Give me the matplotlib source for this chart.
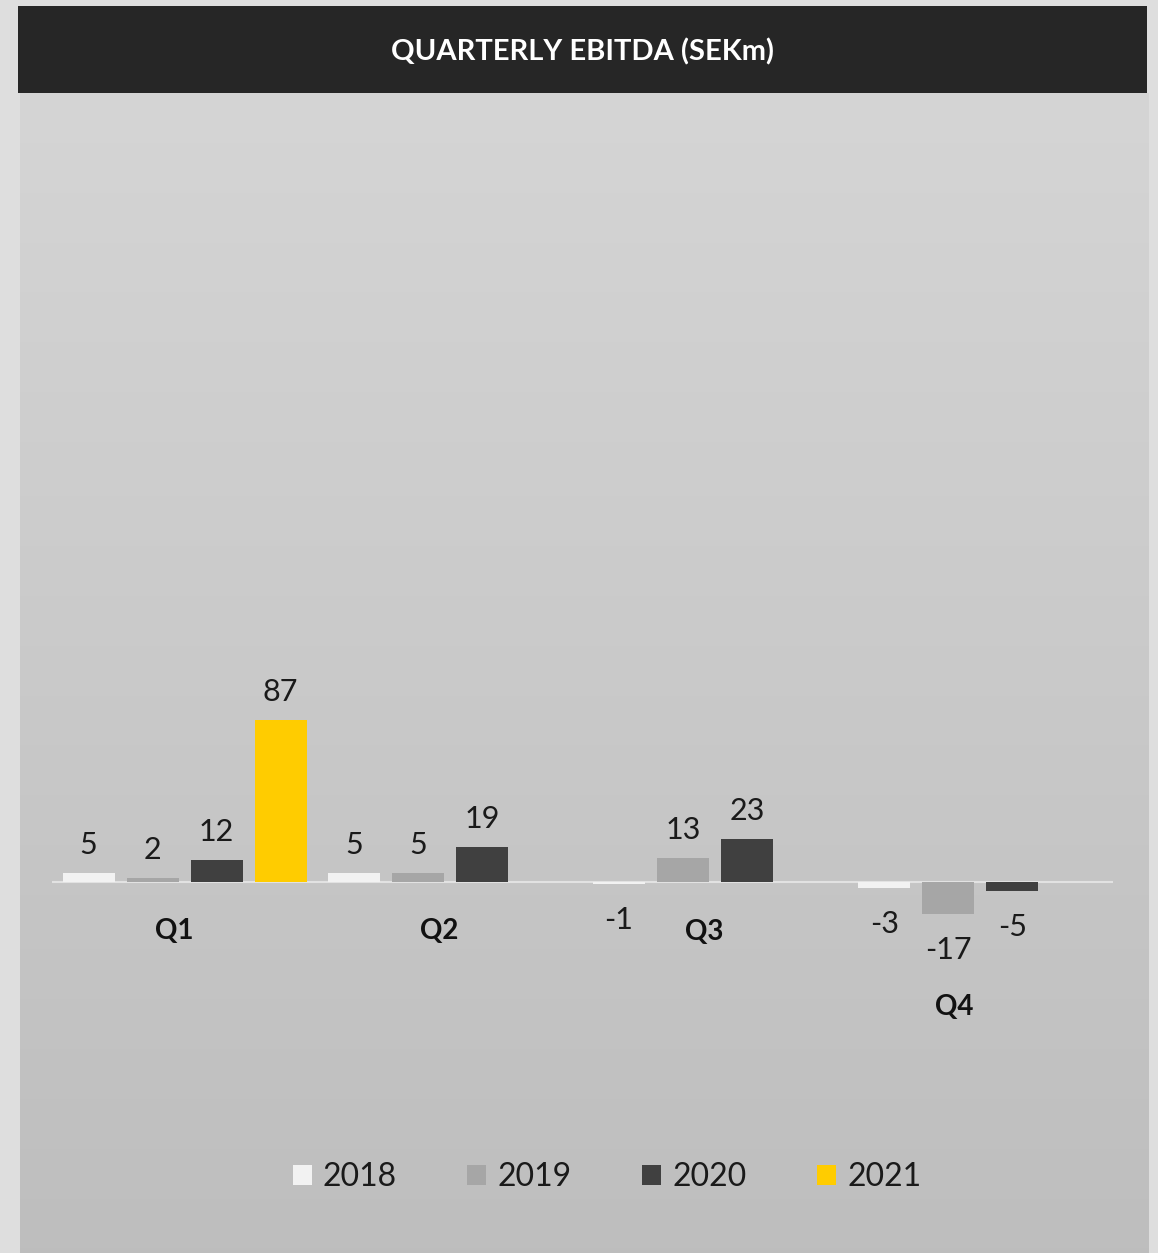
import numpy as np
import matplotlib
matplotlib.use("Agg")
import matplotlib.pyplot as plt
from matplotlib.patches import Rectangle, Patch

# ---- data ----
quarters = ["Q1", "Q2", "Q3", "Q4"]
years = ["2018", "2019", "2020", "2021"]
ebitda_2018 = [5, 5, -1, -3]
ebitda_2019 = [2, 5, 13, -17]
ebitda_2020 = [12, 19, 23, -5]
ebitda_2021 = [87, None, None, None]

series = [ebitda_2018, ebitda_2019, ebitda_2020, ebitda_2021]
colors = ["#f2f2f2", "#a6a6a6", "#404040", "#ffcc00"]

W, H = 1158, 1253
DPI = 100
plt.rcParams["font.family"] = ["Lato", "DejaVu Sans"]

fig = plt.figure(figsize=(W / DPI, H / DPI), dpi=DPI)
fig.patch.set_facecolor("#dedede")

def px_rect(x0, y0, x1, y1):
    # pixel box (top-left origin) -> figure fraction [l, b, w, h]
    return [x0 / W, 1 - y1 / H, (x1 - x0) / W, (y1 - y0) / H]

# panel gradient
bg = fig.add_axes(px_rect(20, 93, 1149, H), zorder=0)
grad = np.linspace(0, 1, 256).reshape(-1, 1)
top = np.array([0.835, 0.835, 0.835])
bot = np.array([0.745, 0.745, 0.745])
img = top + (bot - top) * grad[..., None]
bg.imshow(img, aspect="auto", extent=(0, 1, 0, 1))
bg.set_axis_off()

# header
hd = fig.add_axes(px_rect(18, 6, 1147, 93), zorder=1)
hd.add_patch(Rectangle((0, 0), 1, 1, color="#262626"))
hd.set_xlim(0, 1); hd.set_ylim(0, 1)
hd.set_axis_off()
hd.text(0.5, 0.47, "QUARTERLY EBITDA (SEKm)", color="white", fontsize=21,
        fontweight="bold", ha="center", va="center")

# chart axes: zero line at y=882 px, 1.862 px per unit
ax_top, ax_bot = 100, 1100
scale = 1.862
zero_px = 882
ymax = (zero_px - ax_top) / scale
ymin = -(ax_bot - zero_px) / scale
ax = fig.add_axes(px_rect(52, ax_top, 1113, ax_bot), zorder=2)
ax.set_xlim(0, 4)
ax.set_ylim(ymin, ymax)
ax.patch.set_alpha(0)
ax.set_axis_off()
ax.axhline(0, color="#e2e2e2", lw=1.5, zorder=1)

step = 0.2415
bw = 0.196
for j, (vals, col) in enumerate(zip(series, colors)):
    for i, v in enumerate(vals):
        if v is None:
            continue
        x = i + 0.5 + (j - 1.5) * step
        ax.bar(x, v, bw, color=col, zorder=2)
        off = 20 if v >= 0 else -26
        ax.annotate(str(v), (x, v), xytext=(0, off), textcoords="offset points",
                    ha="center", va="center", fontsize=22, color="#1a1a1a")

# category labels
cat_off = [-35, -35, -35, -67]
cat_dx = [-0.04, -0.04, -0.04, -0.1]
for i, q in enumerate(quarters):
    vals = [s[i] for s in series if s[i] is not None]
    low = min(0, min(vals))
    ax.annotate(q, (i + 0.5 + cat_dx[i], low), xytext=(0, cat_off[i]),
                textcoords="offset points", ha="center", va="center",
                fontsize=20, fontweight="bold", color="#111111")

# legend
handles = [Patch(facecolor=c, edgecolor="none", label=y) for c, y in zip(colors, years)]
fig.legend(handles=handles, loc="center", ncol=4,
           bbox_to_anchor=(607 / W, 1 - 1177 / H), frameon=False,
           fontsize=23, handlelength=0.6, handleheight=0.6,
           handletextpad=0.35, columnspacing=2.2, labelcolor="#1a1a1a")

fig.savefig("out.png", dpi=DPI, facecolor=fig.get_facecolor())
